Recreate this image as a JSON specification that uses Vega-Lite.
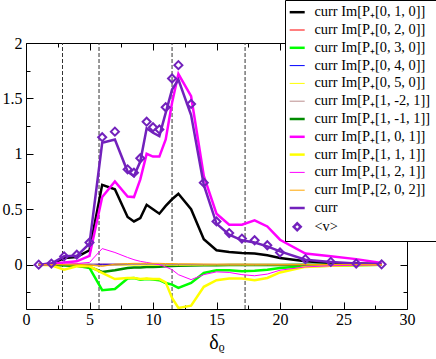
{
 "$schema": "https://vega.github.io/schema/vega-lite/v6.json",
 "width": 381,
 "height": 266,
 "autosize": {"type": "none"},
 "padding": {"left": 26, "top": 43, "right": 29, "bottom": 50},
 "background": "white",
 "config": {
  "view": {"stroke": "black", "strokeWidth": 1},
  "font": "Liberation Serif",
  "axis": {"domain": false, "tickColor": "black", "labelColor": "black", "labelFont": "Liberation Serif", "labelFontSize": 16, "grid": false, "titleFont": "Liberation Serif", "titleColor": "black", "titleFontWeight": "normal", "tickWidth": 1, "labelFlush": false, "labelOverlap": false}
 },
 "datasets": {
  "marks": [{"xd": 2.875}, {"xd": 5.75}, {"xd": 11.5}, {"xd": 17.25}],
  "curves": [
   {"x": 1, "a": 0, "b": 0, "c": 0, "d": 0, "e": 0, "f": 0, "g": 0, "h": 0, "i": 0, "j": 0, "k": 0, "l": 0, "v": 0},
   {"x": 2, "a": 0.005, "b": 0, "c": 0, "d": 0, "e": 0, "f": 0, "g": 0, "h": 0.01, "i": -0.005, "j": 0, "k": 0, "l": 0.01, "v": 0.01},
   {"x": 3, "a": 0.06, "b": 0, "c": -0.005, "d": 0.001, "e": -0.002, "f": 0.002, "g": -0.005, "h": 0.02, "i": -0.045, "j": 0.005, "k": 0.002, "l": 0.075, "v": 0.075},
   {"x": 4, "a": 0.07, "b": 0, "c": -0.01, "d": 0.002, "e": -0.003, "f": 0.004, "g": -0.01, "h": 0.03, "i": -0.015, "j": 0.01, "k": 0.005, "l": 0.08, "v": 0.09},
   {"x": 5, "a": 0.13, "b": 0.002, "c": -0.03, "d": 0.003, "e": -0.005, "f": 0.006, "g": -0.02, "h": 0.08, "i": -0.015, "j": 0.02, "k": -0.005, "l": 0.19, "v": 0.2},
   {"x": 6, "a": 0.72, "b": 0.004, "c": -0.23, "d": 0.004, "e": -0.008, "f": -0.01, "g": -0.065, "h": 0.61, "i": -0.075, "j": 0.145, "k": -0.015, "l": 1.1, "v": 1.15},
   {"x": 7, "a": 0.68, "b": 0.003, "c": -0.22, "d": 0.004, "e": -0.006, "f": -0.005, "g": -0.05, "h": 0.75, "i": -0.13, "j": 0.11, "k": 0.005, "l": 1.13, "v": 1.2},
   {"x": 8, "a": 0.43, "b": 0.002, "c": -0.125, "d": 0.004, "e": -0.005, "f": 0, "g": -0.03, "h": 0.615, "i": -0.12, "j": 0.065, "k": 0.01, "l": 0.84, "v": 0.86},
   {"x": 8.5, "a": 0.39, "b": 0.002, "c": -0.12, "d": 0.004, "e": -0.005, "f": 0.002, "g": -0.025, "h": 0.61, "i": -0.12, "j": 0.045, "k": 0.012, "l": 0.8, "v": 0.83},
   {"x": 9, "a": 0.42, "b": 0.002, "c": -0.135, "d": 0.004, "e": -0.005, "f": 0.002, "g": -0.025, "h": 0.77, "i": -0.13, "j": 0.03, "k": 0.012, "l": 0.93, "v": 0.96},
   {"x": 9.5, "a": 0.54, "b": 0.002, "c": -0.13, "d": 0.004, "e": -0.005, "f": 0.002, "g": -0.02, "h": 1.0, "i": -0.125, "j": 0.02, "k": 0.012, "l": 1.23, "v": 1.29},
   {"x": 10, "a": 0.5, "b": 0.002, "c": -0.135, "d": 0.004, "e": -0.005, "f": 0.002, "g": -0.02, "h": 0.975, "i": -0.13, "j": 0.01, "k": 0.012, "l": 1.19, "v": 1.24},
   {"x": 10.5, "a": 0.46, "b": 0.002, "c": -0.14, "d": 0.003, "e": -0.005, "f": 0.001, "g": -0.018, "h": 0.975, "i": -0.13, "j": 0, "k": 0.012, "l": 1.16, "v": 1.22},
   {"x": 11, "a": 0.53, "b": 0.001, "c": -0.165, "d": 0.003, "e": -0.005, "f": 0.001, "g": -0.015, "h": 1.13, "i": -0.16, "j": -0.02, "k": 0.01, "l": 1.37, "v": 1.42},
   {"x": 11.5, "a": 0.59, "b": 0.001, "c": -0.18, "d": 0.003, "e": -0.005, "f": 0, "g": -0.012, "h": 1.46, "i": -0.3, "j": -0.045, "k": 0.01, "l": 1.58, "v": 1.68},
   {"x": 12, "a": 0.64, "b": 0.001, "c": -0.21, "d": 0.003, "e": -0.006, "f": 0, "g": -0.01, "h": 1.72, "i": -0.39, "j": -0.09, "k": 0.008, "l": 1.67, "v": 1.8},
   {"x": 13, "a": 0.5, "b": 0.001, "c": -0.165, "d": 0.002, "e": -0.005, "f": 0, "g": -0.008, "h": 1.52, "i": -0.37, "j": -0.135, "k": 0.008, "l": 1.35, "v": 1.45},
   {"x": 14, "a": 0.23, "b": 0.001, "c": -0.075, "d": 0.002, "e": -0.004, "f": 0, "g": -0.005, "h": 0.8, "i": -0.2, "j": -0.09, "k": 0.006, "l": 0.72, "v": 0.74},
   {"x": 15, "a": 0.13, "b": 0.001, "c": -0.05, "d": 0.002, "e": -0.003, "f": 0, "g": -0.005, "h": 0.46, "i": -0.14, "j": -0.065, "k": 0.005, "l": 0.37, "v": 0.39},
   {"x": 16, "a": 0.115, "b": 0, "c": -0.05, "d": 0.001, "e": -0.003, "f": 0, "g": -0.004, "h": 0.36, "i": -0.125, "j": -0.07, "k": 0.005, "l": 0.27, "v": 0.285},
   {"x": 17, "a": 0.105, "b": 0, "c": -0.06, "d": 0.001, "e": -0.003, "f": 0, "g": -0.004, "h": 0.36, "i": -0.125, "j": -0.09, "k": 0.005, "l": 0.22, "v": 0.235},
   {"x": 18, "a": 0.1, "b": 0, "c": -0.055, "d": 0.001, "e": -0.003, "f": 0, "g": -0.003, "h": 0.4, "i": -0.14, "j": -0.1, "k": 0.004, "l": 0.2, "v": 0.22},
   {"x": 19, "a": 0.085, "b": 0, "c": -0.045, "d": 0.001, "e": -0.002, "f": 0, "g": -0.003, "h": 0.345, "i": -0.12, "j": -0.085, "k": 0.004, "l": 0.165, "v": 0.175},
   {"x": 20, "a": 0.06, "b": 0, "c": -0.03, "d": 0.001, "e": -0.002, "f": 0, "g": -0.002, "h": 0.225, "i": -0.07, "j": -0.05, "k": 0.003, "l": 0.12, "v": 0.11},
   {"x": 22, "a": 0.03, "b": 0, "c": -0.015, "d": 0, "e": -0.001, "f": 0, "g": -0.001, "h": 0.1, "i": -0.02, "j": -0.02, "k": 0.002, "l": 0.045, "v": 0.05},
   {"x": 24, "a": 0.015, "b": 0, "c": -0.01, "d": 0, "e": 0, "f": 0, "g": 0, "h": 0.075, "i": -0.01, "j": -0.01, "k": 0.001, "l": 0.025, "v": 0.025},
   {"x": 26, "a": 0.01, "b": 0, "c": -0.005, "d": 0, "e": 0, "f": 0, "g": 0, "h": 0.05, "i": -0.005, "j": -0.005, "k": 0, "l": 0.01, "v": 0.01},
   {"x": 28, "a": 0.005, "b": 0, "c": 0, "d": 0, "e": 0, "f": 0, "g": 0, "h": 0.015, "i": 0, "j": 0, "k": 0, "l": 0.005, "v": 0.003}
  ]
 },
 "layer": [
  {
   "data": {"name": "marks"},
   "mark": {"type": "rule", "strokeDash": [4, 2], "color": "#333333", "strokeWidth": 1},
   "encoding": {
    "x": {"field": "xd", "type": "quantitative", "scale": {"domain": [0, 30], "nice": false, "zero": false},
     "axis": {"orient": "top", "labels": false, "title": null, "values": [0, 5, 10, 15, 20, 25, 30], "tickSize": 7, "offset": -7}},
    "y": {"datum": -0.4, "type": "quantitative",
     "axis": {"orient": "right", "labels": false, "title": null, "values": [0, 0.5, 1, 1.5, 2], "tickSize": 7, "offset": -7}},
    "y2": {"datum": 2}
   }
  },
  {
   "data": {"name": "curves"},
   "transform": [{"fold": ["a", "c", "g", "h", "i", "l"], "as": ["key", "val"]}],
   "mark": {"type": "line", "strokeWidth": 2.5},
   "encoding": {
    "x": {"field": "x", "type": "quantitative", "scale": {"domain": [0, 30], "nice": false, "zero": false},
     "axis": {"orient": "bottom", "title": "δᵨ", "titleFontSize": 20, "titlePadding": 5, "labelPadding": 2,
      "values": [0, 5, 10, 15, 20, 25, 30], "tickSize": 7, "offset": -7}},
    "y": {"field": "val", "type": "quantitative", "scale": {"domain": [-0.4, 2], "nice": false, "zero": false},
     "axis": {"orient": "left", "title": null, "labelPadding": 4, "format": "~g",
      "values": [0, 0.5, 1, 1.5, 2], "tickSize": 7, "offset": -7}},
    "color": {"field": "key", "type": "nominal",
     "scale": {"domain": ["a", "b", "c", "d", "e", "f", "g", "h", "i", "j", "k", "l", "m"],
      "range": ["#000000", "#ff0000", "#00ff00", "#0000ff", "#ffff00", "#bc8f8f", "#008b00", "#ff00ff", "#ffff00", "#ff00ff", "#ffa500", "#7221bc", "#7221bc"]},
     "legend": {"orient": "none", "legendX": 259, "legendY": -43, "title": null, "padding": 5,
      "strokeColor": "black", "fillColor": "white", "labelFont": "Liberation Serif", "labelFontSize": 14.4, "labelColor": "black",
      "rowPadding": 2.8, "labelOffset": 10, "labelLimit": 200,
      "labelExpr": "{'a':'curr Im[P₊[0, 1, 0]]','b':'curr Im[P₊[0, 2, 0]]','c':'curr Im[P₊[0, 3, 0]]','d':'curr Im[P₊[0, 4, 0]]','e':'curr Im[P₊[0, 5, 0]]','f':'curr Im[P₊[1, -2, 1]]','g':'curr Im[P₊[1, -1, 1]]','h':'curr Im[P₊[1, 0, 1]]','i':'curr Im[P₊[1, 1, 1]]','j':'curr Im[P₊[1, 2, 1]]','k':'curr Im[P₊[2, 0, 2]]','l':'curr','m':'<v>'}[datum.value]",
      "encode": {"symbols": {"update": {
       "shape": {"signal": "datum.value === 'm' ? 'diamond' : 'stroke'"},
       "size": {"signal": "datum.value === 'm' ? 50 : 225"},
       "strokeWidth": {"signal": "indexof(['a','c','g','h','i','l','m'], datum.value) >= 0 ? 2.5 : 1"},
       "fill": {"value": "transparent"},
       "opacity": {"value": 1}}}}}}
   }
  },
  {
   "data": {"name": "curves"},
   "transform": [{"fold": ["b", "d", "e", "f", "j", "k"], "as": ["key", "val"]}],
   "mark": {"type": "line", "strokeWidth": 1},
   "encoding": {
    "x": {"field": "x", "type": "quantitative",
     "axis": {"orient": "bottom", "labels": false, "title": null, "values": [2.5, 7.5, 12.5, 17.5, 22.5, 27.5], "tickSize": 4, "offset": -4}},
    "y": {"field": "val", "type": "quantitative",
     "axis": {"orient": "left", "labels": false, "title": null, "values": [-0.25, 0.25, 0.75, 1.25, 1.75], "tickSize": 4, "offset": -4}},
    "color": {"field": "key", "type": "nominal"}
   }
  },
  {
   "data": {"name": "curves"},
   "mark": {"type": "point", "shape": "diamond", "filled": false, "size": 64, "strokeWidth": 2, "opacity": 1},
   "encoding": {
    "x": {"field": "x", "type": "quantitative",
     "axis": {"orient": "top", "labels": false, "title": null, "values": [2.5, 7.5, 12.5, 17.5, 22.5, 27.5], "tickSize": 4, "offset": -4}},
    "y": {"field": "v", "type": "quantitative",
     "axis": {"orient": "right", "labels": false, "title": null, "values": [-0.25, 0.25, 0.75, 1.25, 1.75], "tickSize": 4, "offset": -4}},
    "color": {"datum": "m"}
   }
  }
 ],
 "resolve": {"axis": {"x": "independent", "y": "independent"}}
}
